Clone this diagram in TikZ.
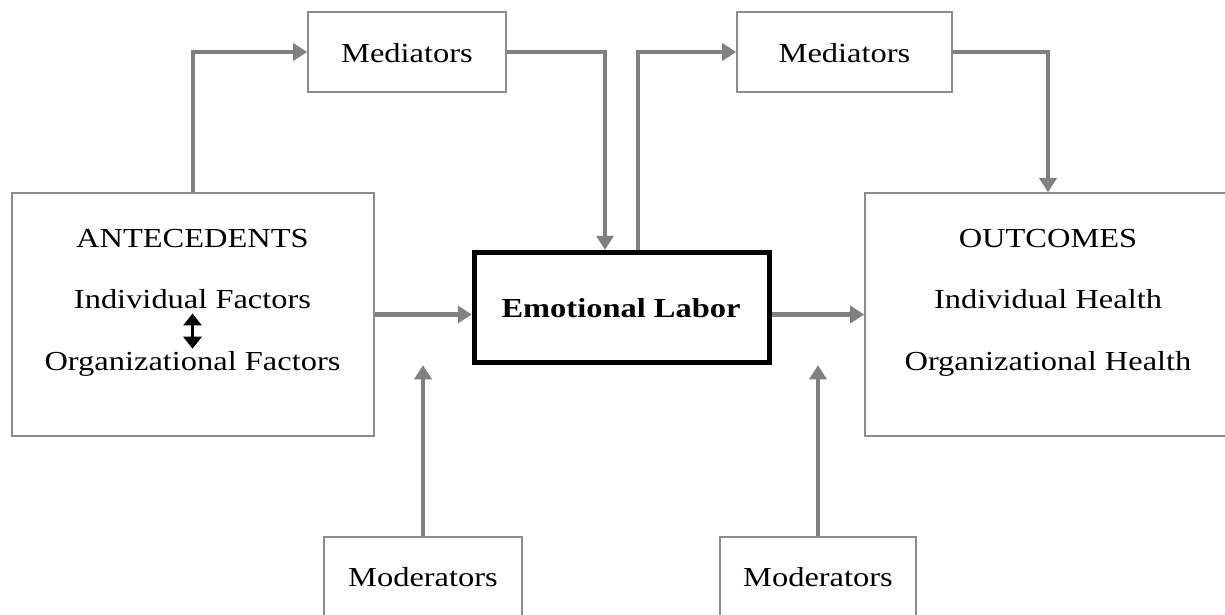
\documentclass[tikz,border=0pt]{standalone}
\usepackage{fontspec}
\setmainfont{Liberation Serif}[FakeStretch=1.18]
\usetikzlibrary{arrows.meta}
\definecolor{linegray}{RGB}{128,128,128}
\definecolor{boxgray}{RGB}{140,140,140}
\begin{document}
\begin{tikzpicture}[x=1pt,y=-1pt,
  every node/.style={font=\fontsize{27.5}{32}\selectfont},
  framebox/.style={draw=boxgray, line width=1.6pt, fill=white, inner sep=0pt},
  linetext/.style={inner sep=0pt, anchor=base},
  flow/.style={draw=linegray, line width=4.5pt,
    -{Triangle[length=14pt,width=17pt]}},
  link/.style={draw=linegray, line width=4.5pt}]
\useasboundingbox (0,0) rectangle (1225,615);
\clip (0,0) rectangle (1225,615);

% boxes
\node[framebox, minimum width=362pt, minimum height=243pt] (ante) at (193,314.5) {};
\node[framebox, minimum width=366pt, minimum height=243pt] (out) at (1048,314.5) {};
\node[framebox, minimum width=198pt, minimum height=80pt] (med1) at (407,52) {};
\node[framebox, minimum width=215pt, minimum height=80pt] (med2) at (844.5,52) {};
\node[framebox, minimum width=198pt, minimum height=100pt] (mod1) at (423,587) {};
\node[framebox, minimum width=196pt, minimum height=100pt] (mod2) at (818,587) {};
\node[draw=black, line width=5.5pt, minimum width=295pt, minimum height=110pt, inner sep=0pt] (el) at (622,307.5) {};

% texts
\node[linetext] (medt1) at (407,63) {Mediators};
\node[linetext] (medt2) at (844.5,63) {Mediators};
\node[linetext] (modt1) at (423,586) {Moderators};
\node[linetext] (modt2) at (818,586) {Moderators};
\node[linetext, font=\fontsize{27.5}{32}\selectfont\bfseries] (elt) at (621,317) {Emotional Labor};
\node[linetext] (anteA) at (192.5,247) {ANTECEDENTS};
\node[linetext] (anteB) at (192.5,308) {Individual Factors};
\node[linetext] (anteC) at (192.5,370) {Organizational Factors};
\node[linetext] (outA) at (1048,247) {OUTCOMES};
\node[linetext] (outB) at (1048,308) {Individual Health};
\node[linetext] (outC) at (1048,370) {Organizational Health};

% two-way link between the antecedent factors
\draw[black, line width=3.5pt,
  {Triangle[length=12pt,width=18pt]}-{Triangle[length=12pt,width=18pt]},
  shorten <=5pt, shorten >=2pt] (anteB.south) -- (anteC.north);

% mediator paths
\draw[flow] (ante.north) |- (med1.west);
\draw[flow] (med1.east) -| ([xshift=-17pt]el.north);
\draw[flow] ([xshift=16pt]el.north) |- (med2.west);
\draw[flow] (med2.east) -| (out.north);

% main flow
\draw[flow] (ante.east) -- (ante.east -| el.west);
\draw[flow] (el.east |- out.west) -- (out.west);

% moderator paths
\draw[flow] (mod1.north) -- (mod1.north |- el.south);
\draw[flow] (mod2.north) -- (mod2.north |- el.south);
\end{tikzpicture}
\end{document}
